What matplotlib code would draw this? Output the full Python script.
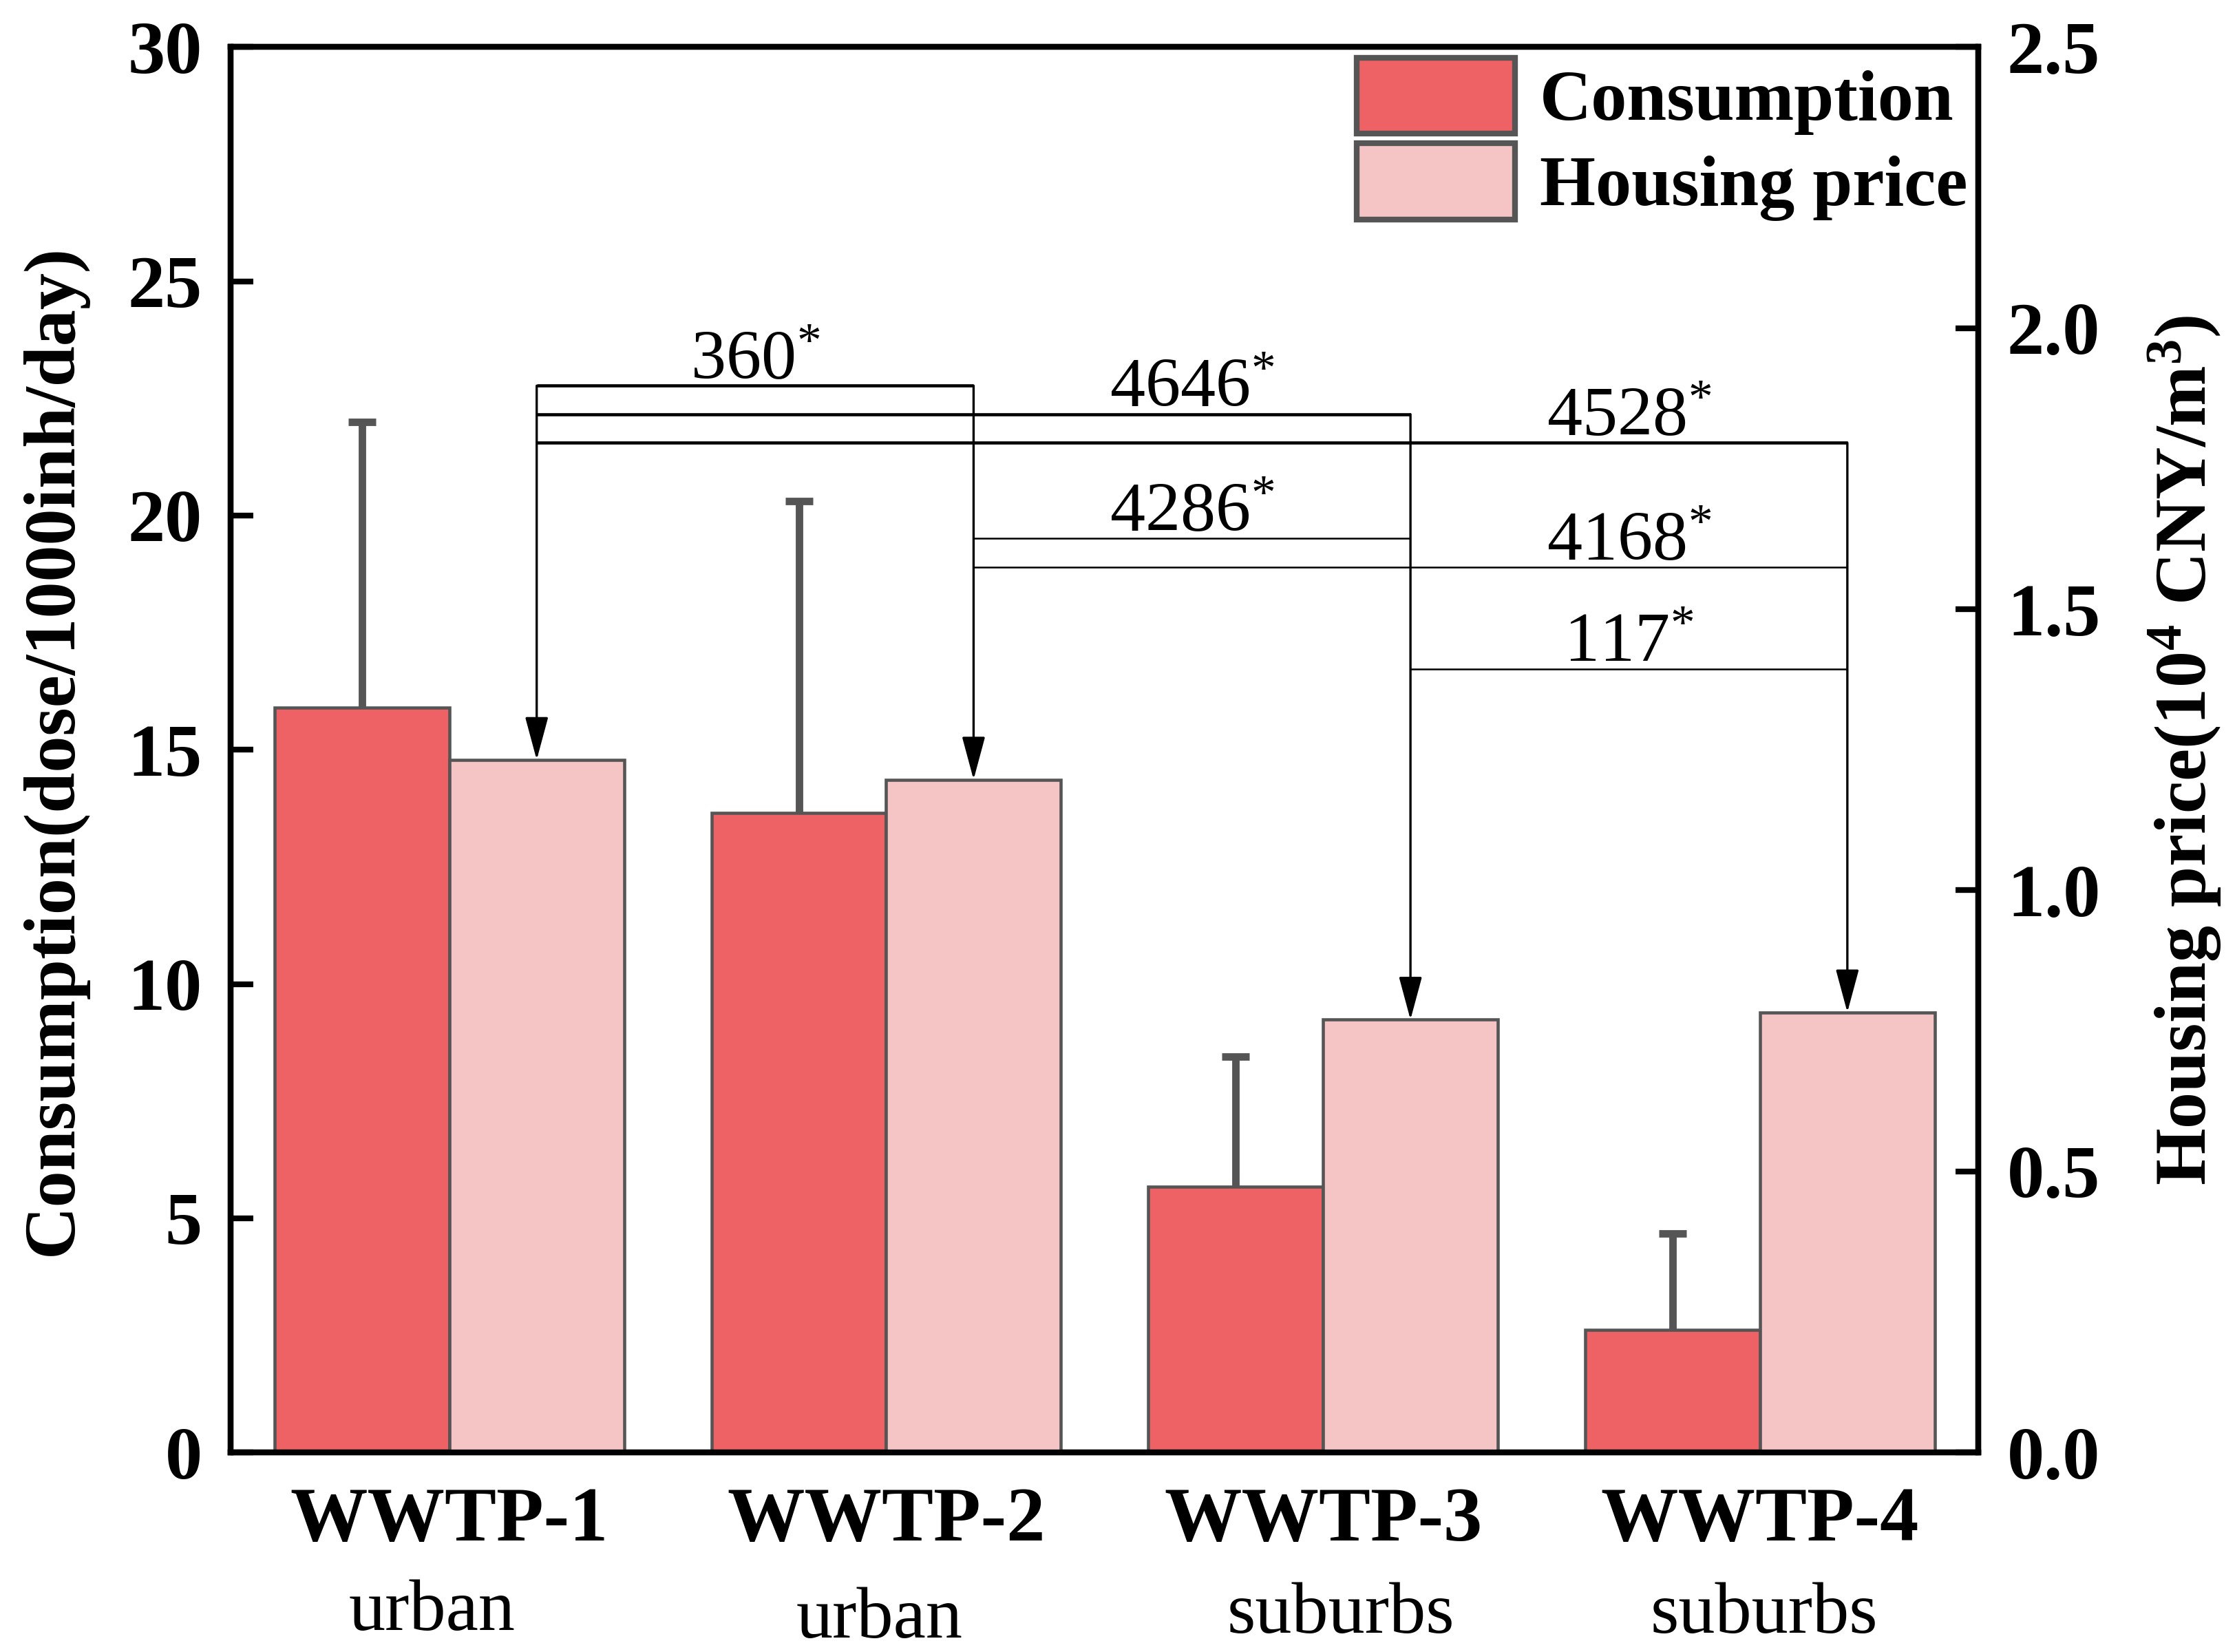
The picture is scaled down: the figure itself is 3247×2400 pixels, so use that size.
import matplotlib
matplotlib.use("Agg")
import matplotlib.pyplot as plt
from matplotlib.patches import Patch
import numpy as np

plt.rcParams['font.family'] = ['Liberation Serif', 'DejaVu Serif']
plt.rcParams['mathtext.fontset'] = 'custom'
plt.rcParams['mathtext.rm'] = 'Liberation Serif'
plt.rcParams['mathtext.it'] = 'Liberation Serif:italic'
plt.rcParams['mathtext.bf'] = 'Liberation Serif:bold'

# ---- data ----
plants = ["WWTP-1", "WWTP-2", "WWTP-3", "WWTP-4"]
areas = ["urban", "urban", "suburbs", "suburbs"]
consumption = [15.9, 13.65, 5.68, 2.62]
consumption_err = [6.1, 6.65, 2.77, 2.06]
housing = [1.232, 1.197, 0.770, 0.783]
# pairwise comparisons: (i, j, label, bracket level on left axis)
comparisons = [
    (0, 1, "360", 22.77),
    (0, 2, "4646", 22.16),
    (0, 3, "4528", 21.55),
    (1, 2, "4286", 19.51),
    (1, 3, "4168", 18.90),
    (2, 3, "117", 16.72),
]
thick_pairs = [(0, 1), (0, 2), (0, 3)]

c_cons = "#EE6266"
c_house = "#F5C4C5"
edge = "#555555"

fig = plt.figure(figsize=(3247/300, 2400/300), dpi=300)
ax = fig.add_axes([0.1033, 0.1207, 0.7819, 0.8509])
ax2 = ax.twinx()

x = np.arange(1, len(plants) + 1)
w = 0.4
ax.bar(x - w/2, consumption, width=w, color=c_cons, edgecolor=edge, linewidth=1.1, zorder=2)
eb = ax.errorbar(x - w/2, consumption, yerr=[np.zeros(len(x)), consumption_err], fmt='none',
                 ecolor=edge, elinewidth=2.6, capsize=4.8, capthick=2.6, zorder=1)
for cl in eb[1]:
    if np.allclose(cl.get_ydata(), consumption):
        cl.set_visible(False)
ax2.bar(x + w/2, housing, width=w, color=c_house, edgecolor=edge, linewidth=1.1, zorder=2)

ax.set_xlim(0.5, 4.5)
ax.set_ylim(0, 30)
ax2.set_ylim(0, 2.5)
ax.set_yticks([0, 5, 10, 15, 20, 25, 30])
ax2.set_yticks([0.0, 0.5, 1.0, 1.5, 2.0, 2.5])
ax2.set_yticklabels(["0.0", "0.5", "1.0", "1.5", "2.0", "2.5"])

fs = 26
for a in (ax, ax2):
    for s in a.spines.values():
        s.set_linewidth(2.0)
    a.tick_params(axis='y', direction='in', length=8, width=2.0, labelsize=fs, pad=10)
    for lab in a.get_yticklabels():
        lab.set_fontweight('bold')
ax.tick_params(axis='x', length=0, pad=12)
ax.set_xticks(x)
ax.set_xticklabels(plants, fontsize=27, fontweight='bold')
ax2.tick_params(axis='x', length=0)

area_dx = [-0.04, -0.015, 0.04, 0.01]
area_dy = [0.0, -0.005, -0.002, -0.002]
for k, (xi, area) in enumerate(zip(x, areas)):
    ax.text(xi + area_dx[k], -0.114 + area_dy[k], area, transform=ax.get_xaxis_transform(),
            ha='center', va='center', fontsize=25.5)

ax.set_ylabel("Consumption(dose/1000inh/day)", fontsize=25.5, fontweight='bold', labelpad=14)
ax2.set_ylabel(r"Housing price(10$^{\mathbf{4}}$ CNY/m$^{\mathbf{3}}$)", fontsize=25.5,
               fontweight='bold', labelpad=16)

# comparison brackets, drawn in housing-axis units
scale = 2.5 / 30
hx = x + w/2
for i, j, lab, lev in comparisons:
    y = lev * scale
    lw = 1.1 if (i, j) in thick_pairs else 0.6
    ax2.plot([hx[i], hx[j]], [y, y], color='black', lw=lw, solid_capstyle='butt', zorder=5)
    ax2.text((hx[j - 1] + hx[j]) / 2, y + 0.012, lab + r"$^{*}$", ha='center', va='baseline',
             fontsize=24.5, zorder=6)

# arrow from highest bracket touching each bar down to bar top
for k in range(len(hx)):
    ytop = max(lev * scale for i, j, lab, lev in comparisons if k in (i, j))
    ax2.annotate("", xy=(hx[k], housing[k]), xytext=(hx[k], ytop),
                 arrowprops=dict(arrowstyle='-|>,head_length=1.3,head_width=0.35',
                                 color='black', lw=0.8, mutation_scale=10,
                                 shrinkA=0, shrinkB=0), zorder=5)

handles = [Patch(facecolor=c_cons, edgecolor=edge, linewidth=2.0, label="Consumption"),
           Patch(facecolor=c_house, edgecolor=edge, linewidth=2.0, label="Housing price")]
leg = ax2.legend(handles=handles, loc='upper right', bbox_to_anchor=(1.0, 1.0), frameon=False,
                 prop={'size': 25, 'weight': 'bold'}, handlelength=2.2, handleheight=1.25,
                 labelspacing=0.12, handletextpad=0.35, borderaxespad=0.05, borderpad=0.1)

fig.savefig("out.png", dpi=300)
